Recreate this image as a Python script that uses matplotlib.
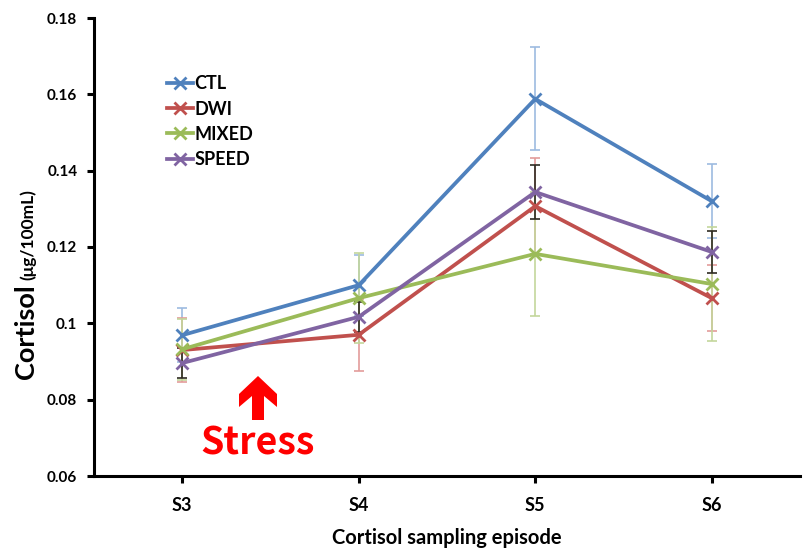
import numpy as np
import matplotlib
matplotlib.use("Agg")
import matplotlib.pyplot as plt
import matplotlib.patches as mpatches

# Cortisol per sampling episode (ug/100mL), mean and error per group
episodes = ["S3", "S4", "S5", "S6"]
groups = ["CTL", "DWI", "MIXED", "SPEED"]

ctl_mean   = [0.0969, 0.1100, 0.1588, 0.1320]
dwi_mean   = [0.0930, 0.0970, 0.1307, 0.1066]
mixed_mean = [0.0932, 0.1066, 0.1182, 0.1103]
speed_mean = [0.0896, 0.1017, 0.1344, 0.1187]

ctl_err   = [0.0070, 0.0080, 0.0135, 0.0097]
dwi_err   = [0.0085, 0.0095, 0.0126, 0.0087]
mixed_err = [0.0080, 0.0118, 0.0163, 0.0150]
speed_err = [0.0040, 0.0040, 0.0070, 0.0055]

yticks = [0.06, 0.08, 0.1, 0.12, 0.14, 0.16, 0.18]
ytick_labels = ["0.06", "0.08", "0.1", "0.12", "0.14", "0.16", "0.18"]

LINE_COLORS = ["#4F81BD", "#C0504D", "#9BBB59", "#8064A2"]
ERR_COLORS  = ["#9DBBE0", "#E39C9A", "#C3D69B", "#2E2A22"]

FONT = "Lato"
W, H = 807, 555

fig = plt.figure(figsize=(W / 100, H / 100), dpi=100)
ax = fig.add_axes([94 / W, 1 - 476 / H, (800 - 94) / W, (476 - 18) / H])

x = np.arange(len(episodes))
means = [ctl_mean, dwi_mean, mixed_mean, speed_mean]
errs = [ctl_err, dwi_err, mixed_err, speed_err]

# error bars first, lines and markers on top
for m, e, ec in zip(means, errs, ERR_COLORS):
    ax.errorbar(x, m, yerr=e, fmt="none", ecolor=ec, elinewidth=1.4,
                capsize=3.5, capthick=1.4, alpha=0.85, zorder=2)
for name, m, c in zip(groups, means, LINE_COLORS):
    ax.plot(x, m, color=c, linewidth=2.7, marker="x", markersize=8,
            markeredgewidth=2, label=name, zorder=3, solid_joinstyle="miter")

ax.set_xlim(-0.5, 3.5)
ax.set_ylim(0.06, 0.18)
ax.set_yticks(yticks)
ax.set_yticklabels(ytick_labels)
ax.set_xticks(x)
ax.set_xticklabels(episodes)

for side in ("top", "right"):
    ax.spines[side].set_visible(False)
for side in ("left", "bottom"):
    ax.spines[side].set_linewidth(2.2)
ax.tick_params(axis="both", direction="out", length=5, width=2.2, pad=7)
ax.tick_params(axis="y", labelsize=11)
ax.tick_params(axis="x", labelsize=13, pad=10)
for lab in ax.get_xticklabels() + ax.get_yticklabels():
    lab.set_fontfamily(FONT)
    lab.set_fontweight("bold")

leg = ax.legend(loc="upper left", bbox_to_anchor=(0.08, 0.91), frameon=False,
                handlelength=1.45, handletextpad=0.1, labelspacing=0.45,
                prop={"family": FONT, "weight": "bold", "size": 13})

ax.set_xlabel("Cortisol sampling episode", fontfamily=FONT, fontweight="bold",
              fontsize=14.5, labelpad=10)

# rotated y label in two sizes
fig.text(34 / W, 1 - 379 / H, "Cortisol", rotation=90, rotation_mode="anchor",
         ha="left", va="baseline", fontfamily=FONT, fontweight="bold",
         fontsize=19.5)
fig.text(33 / W, 1 - 280 / H, "(\u03bcg/100mL)", rotation=90,
         rotation_mode="anchor", ha="left", va="baseline", fontfamily=FONT,
         fontweight="bold", fontsize=12.5)

# red stress arrow and label
ax_px = lambda px, py: (px / W, 1 - py / H)
arrow = [ax_px(258, 376), ax_px(277, 394), ax_px(277, 407), ax_px(264, 396),
         ax_px(264, 420), ax_px(252, 420), ax_px(252, 396), ax_px(239, 407),
         ax_px(239, 394)]
fig.patches.append(mpatches.Polygon(arrow, closed=True, facecolor="#FF0000",
                                    edgecolor="none", transform=fig.transFigure))
fig.text(258 / W, 1 - 443 / H, "Stress", ha="center", va="center",
         color="#FF0000", fontfamily="Noto Sans CJK JP", fontweight="bold",
         fontsize=27)

fig.savefig("out.png", dpi=100, facecolor="white")
